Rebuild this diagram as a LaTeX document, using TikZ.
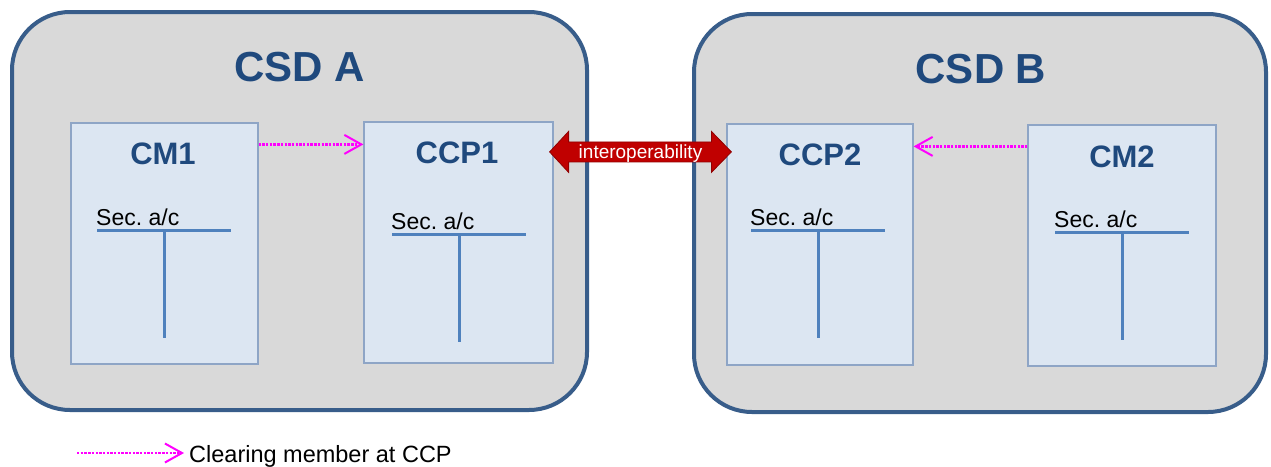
\documentclass[tikz,border=0pt]{standalone}
\usepackage{fontspec}
\setmainfont{Liberation Sans}
\usetikzlibrary{arrows.meta,calc}

\definecolor{csdline}{HTML}{385D8A}
\definecolor{csdfill}{HTML}{D9D9D9}
\definecolor{boxfill}{HTML}{DCE6F2}
\definecolor{boxline}{HTML}{8EA5C6}
\definecolor{titleblue}{HTML}{1F497D}
\definecolor{tblue}{HTML}{4F81BD}
\definecolor{interred}{HTML}{C00000}
\definecolor{memberpink}{HTML}{FF00FF}

\frenchspacing
\begin{document}
\begin{tikzpicture}[x=1pt,y=-1pt,
  csdbox/.style={draw=csdline, fill=csdfill, line width=4pt,
    rounded corners=58pt, inner sep=0pt},
  partybox/.style={draw=boxline, fill=boxfill, line width=1.2pt, inner sep=0pt},
  csdtitle/.style={text=titleblue, font=\fontsize{42}{48}\selectfont\bfseries,
    anchor=base, inner sep=0pt},
  partytitle/.style={text=titleblue, font=\fontsize{31}{36}\selectfont\bfseries,
    anchor=base, inner sep=0pt},
  seclabel/.style={font=\fontsize{23}{27}\selectfont, anchor=base west, inner sep=0pt},
  tline/.style={draw=tblue, line width=3pt},
  memberarrow/.style={draw=memberpink, line width=2.6pt, dash pattern=on 2.4pt off 1.3pt,
    -{Straight Barb[length=17pt,width=19pt,line width=2pt]}},
  interop/.style={fill=interred, draw=interred!75!black, line width=0.8pt},
]
\useasboundingbox (0,0) rectangle (1271,466);

% the two depositories
\node[csdbox, minimum width=575pt, minimum height=398pt] (csda) at (299.5,211) {};
\node[csdbox, minimum width=572pt, minimum height=398pt] (csdb) at (980,213) {};
\node[csdtitle] (csdatitle) at (299.5,81) {CSD A};
\node[csdtitle] (csdbtitle) at (981,83) {CSD B};

% members and CCPs
\node[partybox, minimum width=187pt, minimum height=241pt] (cm1)  at (164.5,243.5) {};
\node[partybox, minimum width=189pt, minimum height=241pt] (ccp1) at (458.5,242.5) {};
\node[partybox, minimum width=186pt, minimum height=241pt] (ccp2) at (820,244.5) {};
\node[partybox, minimum width=188pt, minimum height=241pt] (cm2)  at (1122,245.5) {};

\node[partytitle] (cm1title)  at (163,164) {CM1};
\node[partytitle] (ccp1title) at (457,163) {CCP1};
\node[partytitle] (ccp2title) at (820,165) {CCP2};
\node[partytitle] (cm2title)  at (1122,167) {CM2};

% securities T-accounts
\foreach \n/\cx/\cy in {cm1/164/230, ccp1/459/234, ccp2/818/230, cm2/1122/232}{
  \coordinate (\n tmid) at (\cx,\cy);
  \draw[tline] ($(\n tmid)+(-67,0)$) -- ($(\n tmid)+(67,0)$);
  \draw[tline] (\n tmid) -- ++(0,108);
  \node[seclabel] (\n sec) at ($(\n tmid)+(-68,-5)$) {Sec. a/c};
}

% clearing-member links
\coordinate (linkA) at ($(cm1.north east)+(0,22)$);
\draw[memberarrow] (linkA) -- (linkA -| ccp1.west);
\coordinate (linkB) at ($(cm2.north west)+(0,22)$);
\draw[memberarrow] (linkB) -- (linkB -| ccp2.east);

% interoperability link between the CCPs
\coordinate (iL) at ($(ccp1.north east)+(-4,30.5)$);
\coordinate (iR) at ($(ccp2.north west)+(5,28.5)$);
\path[interop] (iL) -- ++(19,-20.5) -- ++(0,10.5) -- ($(iR)+(-20,-10)$)
  -- ++(0,-10.5) -- (iR) -- ++(-20,20.5) -- ++(0,-10.5)
  -- ($(iL)+(19,10)$) -- ++(0,10.5) -- cycle;
\node[font=\fontsize{19}{22}\selectfont, text=white, anchor=base, inner sep=0pt]
  (interoplabel) at ($(iL)!0.5!(iR)+(0,6.8)$) {interoperability};

% legend
\node[font=\fontsize{23.5}{28}\selectfont, anchor=base west, inner sep=0pt]
  (legendtext) at (189,462.5) {Clearing member at CCP};
\coordinate (legendstart) at (77,453);
\draw[memberarrow, shorten >=5pt] (legendstart) -- (legendstart -| legendtext.west);
\end{tikzpicture}
\end{document}
